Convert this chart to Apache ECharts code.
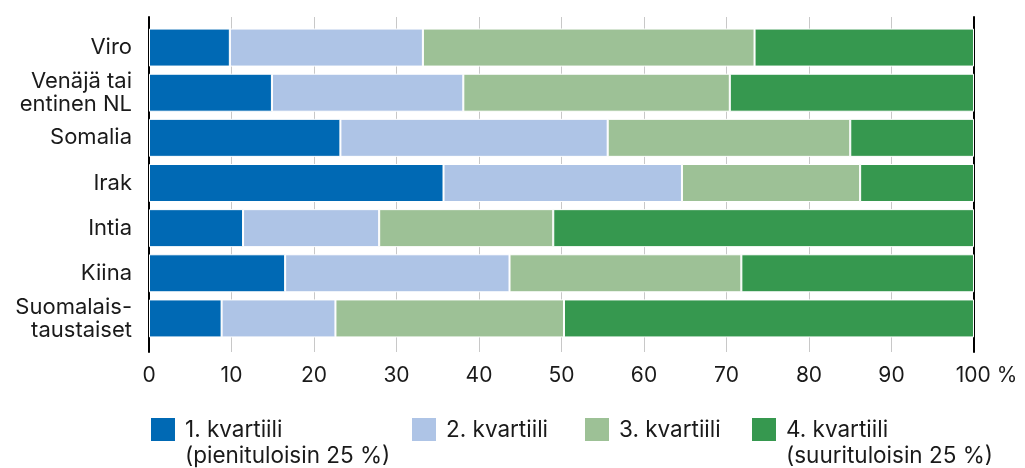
<!DOCTYPE html>
<html>
<head>
<meta charset="utf-8">
<script src="https://cdn.jsdelivr.net/npm/echarts@6/dist/echarts.min.js"></script>
<style>
  html, body { margin: 0; padding: 0; background: #fff; }
  #main { width: 1025px; height: 468px; }
</style>
</head>
<body>
<div id="main"></div>
<script>
var categories = ["Viro", "Venäjä tai\nentinen NL", "Somalia", "Irak", "Intia", "Kiina", "Suomalais-\ntaustaiset"];
var names = ["1. kvartiili\n(pienituloisin 25 %)", "2. kvartiili\n ", "3. kvartiili\n ", "4. kvartiili\n(suurituloisin 25 %)"];
var q1 = [9.8, 14.9, 23.2, 35.7, 11.4, 16.5, 8.8];
var q2 = [23.4, 23.2, 32.4, 28.9, 16.5, 27.2, 13.8];
var q3 = [40.2, 32.3, 29.4, 21.6, 21.1, 28.1, 27.7];
var q4 = [26.6, 29.6, 15.0, 13.8, 51.0, 28.2, 49.7];
var colors = ["#0069b4", "#aec4e6", "#9dc196", "#36984f"];
var values = [q1, q2, q3, q4];

var font = "Inter";
var textColor = "#1a1a1a";
// kuvake: neliö ylhäällä, näkymätön piste laajentaa laatikkoa
var icon = "path://M0,0H24V23H0Z M29,50H29.01V50.01H29Z";
var legendLeft = [151, 412, 585, 752];

var myChart = echarts.init(document.getElementById("main"));

var series = values.map(function (v, i) {
  return {
    name: names[i],
    type: "bar",
    stack: "a",
    xAxisIndex: 1,
    yAxisIndex: 2,
    barWidth: 38,
    itemStyle: { color: colors[i], borderColor: "#fff", borderWidth: 1 },
    data: v
  };
});

var option = {
  backgroundColor: "#fff",
  animation: false,
  grid: [
    { left: 149, right: 51, top: 17, bottom: 116 },
    { left: 149, right: 51, top: 25, bottom: 127 }
  ],
  xAxis: [
    {
      gridIndex: 0,
      type: "value",
      min: 0,
      max: 100,
      interval: 10,
      axisLine: { show: false },
      axisTick: { show: false },
      splitLine: { show: true, lineStyle: { color: "#c8c8c8", width: 1 } },
      axisLabel: {
        margin: 13,
        fontFamily: font,
        fontSize: 21,
        color: textColor,
        formatter: function (v) {
          return v === 100 ? "{n|100} %" : String(v);
        },
        rich: { n: { fontFamily: font, fontSize: 21, color: textColor, padding: [0, 0, 0, 25] } }
      }
    },
    {
      gridIndex: 1,
      type: "value",
      min: 0,
      max: 100,
      show: false
    }
  ],
  yAxis: [
    {
      gridIndex: 0,
      type: "value",
      min: 0,
      max: 1,
      position: "left",
      axisLine: { show: true, lineStyle: { color: "#000", width: 2 } },
      axisTick: { show: false },
      axisLabel: { show: false },
      splitLine: { show: false }
    },
    {
      gridIndex: 0,
      type: "value",
      min: 0,
      max: 1,
      position: "right",
      axisLine: { show: true, lineStyle: { color: "#000", width: 2 } },
      axisTick: { show: false },
      axisLabel: { show: false },
      splitLine: { show: false }
    },
    {
      gridIndex: 1,
      type: "category",
      inverse: true,
      data: categories,
      axisLine: { show: false },
      axisTick: { show: false },
      axisLabel: {
        margin: 17,
        fontFamily: font,
        fontSize: 22,
        lineHeight: 23,
        color: textColor,
        align: "right"
      }
    }
  ],
  legend: names.map(function (n, i) {
    return {
      data: [n],
      left: legendLeft[i],
      top: 417,
      padding: 0,
      icon: icon,
      itemWidth: 29,
      itemHeight: 50,
      itemStyle: { borderWidth: 0 },
      selectedMode: false,
      textStyle: { fontFamily: font, fontSize: 22.5, lineHeight: 26, color: textColor }
    };
  }),
  series: series
};

myChart.setOption(option);
</script>
</body>
</html>
